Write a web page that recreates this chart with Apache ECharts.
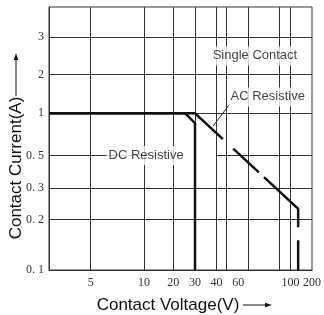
<!DOCTYPE html>
<html>
<head>
<meta charset="utf-8">
<script src="https://cdn.jsdelivr.net/npm/echarts@6/dist/echarts.min.js"></script>
<style>html,body{margin:0;padding:0;background:#fff}#c{width:324px;height:315px}</style>
</head>
<body>
<div id="c"></div>
<script>
// ---- data ----
const dcVoltage = [3, 25, 30, 30];
const dcCurrent = [1, 1, 0.85, 0.1];
const acVoltage = [3, 30, 128, 128];
const acCurrent = [1, 1, 0.23, 0.1];

const xTickValues = [5, 10, 20, 30, 40, 60, 100, 200];
const xTickLabels = ['5', '10', '20', '30', '40', '60', '100', '200'];
const yTickValues = [0.1, 0.2, 0.3, 0.5, 1, 2, 3];
const yTickLabels = ['0. 1', '0. 2', '0. 3', '0. 5', '1', '2', '3'];
const xGridVoltages = [5, 10, 20, 30, 40, 50, 70, 90, 100];
const yGridCurrents = [0.2, 0.3, 1, 2, 3];

// ---- the chart's own (hand-drawn, irregular) scales: value -> axis unit ----
const xScale = [[3, 0], [5, 41.7], [10, 95], [20, 124.3], [30, 146], [40, 167.5], [50, 177.5], [70, 199], [90, 230.3], [100, 241.5], [200, 263]];
const yScale = [[0.1, 0], [0.2, 50.3], [0.3, 82], [0.5, 114.5], [1, 156.7], [2, 195.5], [3, 232.7], [5, 263]];
function interp(stops, v) {
  for (let i = 0; i < stops.length - 1; i++) {
    const a = stops[i], b = stops[i + 1];
    if (v <= b[0] || i === stops.length - 2) {
      const t = (Math.log(v) - Math.log(a[0])) / (Math.log(b[0]) - Math.log(a[0]));
      return a[1] + t * (b[1] - a[1]);
    }
  }
}
const xs = v => interp(xScale, v);
const ys = v => interp(yScale, v);
const XMAX = xScale[xScale.length - 1][1], YMAX = yScale[yScale.length - 1][1];

function pts(vs, cs) { return vs.map((v, i) => [xs(v), ys(cs[i])]); }
function labelFor(values, labels, scale, u) {
  let best = 0, d = 1e9;
  values.forEach((v, i) => { const dd = Math.abs(scale(v) - u); if (dd < d) { d = dd; best = i; } });
  return labels[best];
}

const gridColor = '#333';
const markLines = [];
xGridVoltages.forEach(v => markLines.push({ xAxis: xs(v) }));
yGridCurrents.forEach(c => markLines.push({ yAxis: ys(c) }));
markLines.push([{ coord: [xs(3), ys(0.5)] }, { coord: [xs(20), ys(0.5)] }]);
markLines.push([{ coord: [xs(40), ys(0.5)] }, { coord: [xs(200), ys(0.5)] }]);

const annotations = [
  { value: [xs(74), ys(2.45)], text: 'Single Contact' },
  { value: [xs(82), ys(1.34)], text: 'AC Resistive' },
  { value: [xs(10.5), ys(0.5)], text: 'DC Resistive' }
];

const chart = echarts.init(document.getElementById('c'), null, { renderer: 'canvas' });
chart.setOption({
  animation: false,
  backgroundColor: '#fff',
  grid: { left: 49, right: 12, top: 7, bottom: 45, show: true, borderColor: gridColor, borderWidth: 1, backgroundColor: 'transparent' },
  xAxis: {
    type: 'value', min: 0, max: XMAX,
    axisLine: { show: true, lineStyle: { color: gridColor, width: 1 } },
    axisTick: { show: false }, splitLine: { show: false },
    axisLabel: {
      customValues: xTickValues.map(xs),
      formatter: u => labelFor(xTickValues, xTickLabels, xs, u),
      fontFamily: 'Liberation Serif', fontSize: 12, color: '#333', margin: 7
    }
  },
  yAxis: {
    type: 'value', min: 0, max: YMAX,
    axisLine: { show: true, lineStyle: { color: gridColor, width: 1 } },
    axisTick: { show: false }, splitLine: { show: false },
    axisLabel: {
      customValues: yTickValues.map(ys),
      formatter: u => labelFor(yTickValues, yTickLabels, ys, u),
      fontFamily: 'Liberation Serif', fontSize: 12, color: '#333', margin: 5
    }
  },
  graphic: [
    { type: 'text', x: 168, y: 305, style: { text: 'Contact Voltage(V)', font: '17px "Liberation Sans"', fill: '#111', align: 'center', verticalAlign: 'middle' } },
    { type: 'line', shape: { x1: 243, y1: 305, x2: 267, y2: 305 }, style: { stroke: '#111', lineWidth: 1 } },
    { type: 'polygon', shape: { points: [[265, 302.8], [272, 305], [265, 307.2]] }, style: { fill: '#111' } },
    { type: 'text', x: 16, y: 168, rotation: Math.PI / 2, style: { text: 'Contact Current(A)', font: '17px "Liberation Sans"', fill: '#111', align: 'center', verticalAlign: 'middle' } },
    { type: 'line', shape: { x1: 16, y1: 96, x2: 16, y2: 58 }, style: { stroke: '#111', lineWidth: 1 } },
    { type: 'polygon', shape: { points: [[13.8, 60], [16, 53], [18.2, 60]] }, style: { fill: '#111' } }
  ],
  series: [
    {
      type: 'line', data: [], silent: true, z: 1,
      markLine: { silent: true, symbol: 'none', label: { show: false }, animation: false,
        lineStyle: { color: gridColor, width: 1, type: 'solid' }, data: markLines }
    },
    {
      type: 'scatter', z: 5, silent: true, symbolSize: 1, itemStyle: { color: 'rgba(0,0,0,0)' },
      data: annotations.map(a => ({ value: a.value, name: a.text })),
      label: { show: true, position: 'inside', formatter: p => p.name, fontFamily: 'Liberation Sans', fontSize: 13, color: '#111', backgroundColor: '#fff', padding: [3, 2] }
    },
    {
      type: 'line', z: 4, silent: true, symbol: 'none',
      data: pts([38.2, 52], [0.81, 1.16]),
      lineStyle: { color: '#222', width: 1 }
    },
    {
      name: 'DC Resistive', type: 'line', z: 6, symbol: 'none',
      data: pts(dcVoltage, dcCurrent),
      lineStyle: { color: '#111', width: 2.5, cap: 'butt', join: 'miter' }
    },
    {
      name: 'AC Resistive', type: 'line', z: 6, symbol: 'none',
      data: pts(acVoltage, acCurrent),
      lineStyle: { color: '#111', width: 2.5, type: [184, 14, 35, 7, 65, 13, 60], cap: 'butt', join: 'miter' }
    }
  ]
});
</script>
</body>
</html>
